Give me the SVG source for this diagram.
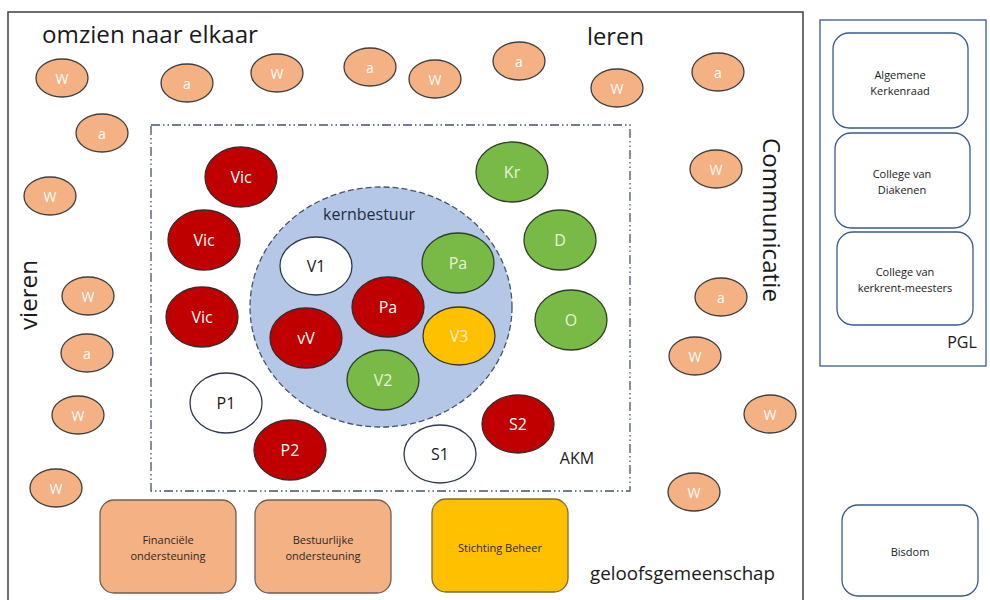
<svg xmlns="http://www.w3.org/2000/svg" width="990" height="600" viewBox="0 0 990 600">
<style>
text{font-family:"Open Sans","Liberation Sans",sans-serif;text-anchor:middle;dominant-baseline:central}
.lbl{font-size:23px;fill:#1a1a1a;text-anchor:start;dominant-baseline:auto}
.sm ellipse{fill:#F4B183;stroke:#3F3F3F;stroke-width:1.3}
.sm text{font-size:14px;fill:#FFFFFF}
.red ellipse{fill:#C00000;stroke:#3a2a2a;stroke-width:1.3}
.red text{font-size:16px;fill:#FFFFFF}
.grn ellipse{fill:#78BA45;stroke:#2f3f2a;stroke-width:1.3}
.grn text{font-size:16px;fill:#E8F4DC}
.wht ellipse{fill:#FFFFFF;stroke:#2F3A4A;stroke-width:1.3}
.wht text{font-size:16px;fill:#1a1a1a}
.ylw ellipse{fill:#FFC000;stroke:#3a3a2a;stroke-width:1.3}
.ylw text{font-size:16px;fill:#FFF2CC}
.box rect{stroke-width:1.3}
.box text{font-size:11px;fill:#2a2a2a}
.pgl rect{fill:#FFFFFF;stroke:#3B5A8C;stroke-width:1.3}
.pgl text{font-size:11px;fill:#1a1a1a}
</style>

<!-- frames -->
<g id="frame-geloofsgemeenschap">
<path d="M8,602 L8,12 L803,12 L803,602" fill="none" stroke="#404040" stroke-width="1.5"/>
<text class="lbl" x="42" y="43" textLength="216" lengthAdjust="spacingAndGlyphs">omzien naar elkaar</text>
<text class="lbl" x="587" y="45" textLength="57" lengthAdjust="spacingAndGlyphs">leren</text>
<text class="lbl" transform="translate(763,138) rotate(90)" textLength="164" lengthAdjust="spacingAndGlyphs">Communicatie</text>
<text class="lbl" transform="translate(37,330) rotate(-90)" textLength="70" lengthAdjust="spacingAndGlyphs">vieren</text>
<text class="lbl" x="590" y="580" style="font-size:18px" textLength="185" lengthAdjust="spacingAndGlyphs">geloofsgemeenschap</text>
</g>

<g id="frame-pgl">
<rect x="820" y="20" width="166" height="346" fill="none" stroke="#3B5A8C" stroke-width="1.3"/>
<text x="962" y="342" style="font-size:16px;fill:#1a1a1a">PGL</text>
</g>

<g id="akm">
<rect x="151" y="125" width="479" height="366" fill="none" stroke="#44546A" stroke-width="1.3" stroke-dasharray="9,3,1.5,3,1.5,3"/>
<text x="577" y="458" style="font-size:16px;fill:#1a1a1a">AKM</text>
</g>

<g id="kernbestuur">
<ellipse cx="381" cy="307" rx="131" ry="120" fill="#B4C7E7" stroke="#44546A" stroke-width="1.3" stroke-dasharray="6,3"/>
<text x="369" y="214" style="font-size:16px;fill:#1F2D3D">kernbestuur</text>
</g>

<!-- core nodes -->
<g id="vic1" class="red"><ellipse cx="241" cy="177" rx="36" ry="30"/><text x="241" y="177">Vic</text></g>
<g id="vic2" class="red"><ellipse cx="204" cy="240" rx="36" ry="30"/><text x="204" y="240">Vic</text></g>
<g id="vic3" class="red"><ellipse cx="202" cy="317" rx="36" ry="30"/><text x="202" y="317">Vic</text></g>
<g id="vV" class="red"><ellipse cx="306" cy="338" rx="36" ry="30"/><text x="306" y="338">vV</text></g>
<g id="pa-red" class="red"><ellipse cx="388" cy="307" rx="36" ry="30"/><text x="388" y="307">Pa</text></g>
<g id="p2" class="red"><ellipse cx="290" cy="450" rx="36" ry="30"/><text x="290" y="450">P2</text></g>
<g id="s2" class="red"><ellipse cx="518" cy="424" rx="36" ry="29"/><text x="518" y="424">S2</text></g>
<g id="v1" class="wht"><ellipse cx="316" cy="266" rx="36" ry="29"/><text x="316" y="266">V1</text></g>
<g id="p1" class="wht"><ellipse cx="226" cy="403" rx="36" ry="30"/><text x="226" y="403">P1</text></g>
<g id="s1" class="wht"><ellipse cx="440" cy="454" rx="36" ry="29"/><text x="440" y="454">S1</text></g>
<g id="kr" class="grn"><ellipse cx="512" cy="172" rx="36" ry="30"/><text x="512" y="172">Kr</text></g>
<g id="d" class="grn"><ellipse cx="560" cy="240" rx="36" ry="30"/><text x="560" y="240">D</text></g>
<g id="o" class="grn"><ellipse cx="571" cy="320" rx="36" ry="30"/><text x="571" y="320">O</text></g>
<g id="pa-green" class="grn"><ellipse cx="458" cy="263" rx="36" ry="30"/><text x="458" y="263">Pa</text></g>
<g id="v2" class="grn"><ellipse cx="383" cy="380" rx="36" ry="30"/><text x="383" y="380">V2</text></g>
<g id="v3" class="ylw"><ellipse cx="459" cy="336" rx="36" ry="29"/><text x="459" y="336">V3</text></g>

<!-- small member nodes -->
<g id="w1" class="sm"><ellipse cx="62" cy="78" rx="26" ry="19"/><text x="62" y="78">W</text></g>
<g id="a1" class="sm"><ellipse cx="187" cy="83" rx="26" ry="19"/><text x="187" y="83">a</text></g>
<g id="w2" class="sm"><ellipse cx="277" cy="73" rx="26" ry="19"/><text x="277" y="73">W</text></g>
<g id="a2" class="sm"><ellipse cx="370" cy="67" rx="26" ry="19"/><text x="370" y="67">a</text></g>
<g id="w3" class="sm"><ellipse cx="435" cy="79" rx="26" ry="19"/><text x="435" y="79">W</text></g>
<g id="a3" class="sm"><ellipse cx="519" cy="61" rx="26" ry="19"/><text x="519" y="61">a</text></g>
<g id="w4" class="sm"><ellipse cx="617" cy="88" rx="26" ry="19"/><text x="617" y="88">W</text></g>
<g id="a4" class="sm"><ellipse cx="718" cy="72" rx="26" ry="19"/><text x="718" y="72">a</text></g>
<g id="a5" class="sm"><ellipse cx="102" cy="133" rx="26" ry="19"/><text x="102" y="133">a</text></g>
<g id="w5" class="sm"><ellipse cx="50" cy="196" rx="26" ry="19"/><text x="50" y="196">W</text></g>
<g id="w6" class="sm"><ellipse cx="716" cy="169" rx="26" ry="19"/><text x="716" y="169">W</text></g>
<g id="a6" class="sm"><ellipse cx="721" cy="297" rx="26" ry="19"/><text x="721" y="297">a</text></g>
<g id="w7" class="sm"><ellipse cx="695" cy="356" rx="26" ry="19"/><text x="695" y="356">W</text></g>
<g id="w8" class="sm"><ellipse cx="770" cy="414" rx="26" ry="19"/><text x="770" y="414">W</text></g>
<g id="w9" class="sm"><ellipse cx="694" cy="492" rx="26" ry="19"/><text x="694" y="492">W</text></g>
<g id="w10" class="sm"><ellipse cx="88" cy="296" rx="26" ry="19"/><text x="88" y="296">W</text></g>
<g id="a7" class="sm"><ellipse cx="87" cy="353" rx="26" ry="19"/><text x="87" y="353">a</text></g>
<g id="w11" class="sm"><ellipse cx="78" cy="415" rx="26" ry="19"/><text x="78" y="415">W</text></g>
<g id="w12" class="sm"><ellipse cx="56" cy="488" rx="26" ry="19"/><text x="56" y="488">W</text></g>

<!-- bottom boxes -->
<g id="financiele" class="box"><rect x="100" y="500" width="136" height="93" rx="14" fill="#F4B183" stroke="#6F6058"/><text x="168" y="539">Financiële</text><text x="168" y="555">ondersteuning</text></g>
<g id="bestuurlijke" class="box"><rect x="255" y="500" width="136" height="93" rx="14" fill="#F4B183" stroke="#6F6058"/><text x="323" y="539">Bestuurlijke</text><text x="323" y="555">ondersteuning</text></g>
<g id="stichting" class="box"><rect x="432" y="499" width="136" height="93" rx="14" fill="#FFC000" stroke="#7A6A3A"/><text x="500" y="547">Stichting Beheer</text></g>

<!-- PGL boxes -->
<g id="algemene" class="pgl"><rect x="833" y="33" width="135" height="95" rx="16"/><text x="900" y="74">Algemene</text><text x="900" y="90">Kerkenraad</text></g>
<g id="diakenen" class="pgl"><rect x="835" y="133" width="135" height="95" rx="16"/><text x="902" y="173">College van</text><text x="902" y="189">Diakenen</text></g>
<g id="kerkrentmeesters" class="pgl"><rect x="837" y="232" width="136" height="93" rx="16"/><text x="905" y="271">College van</text><text x="905" y="287">kerkrent-meesters</text></g>
<g id="bisdom" class="pgl"><rect x="842" y="505" width="136" height="91" rx="16"/><text x="910" y="551">Bisdom</text></g>

<g id="connectors"></g>
</svg>
